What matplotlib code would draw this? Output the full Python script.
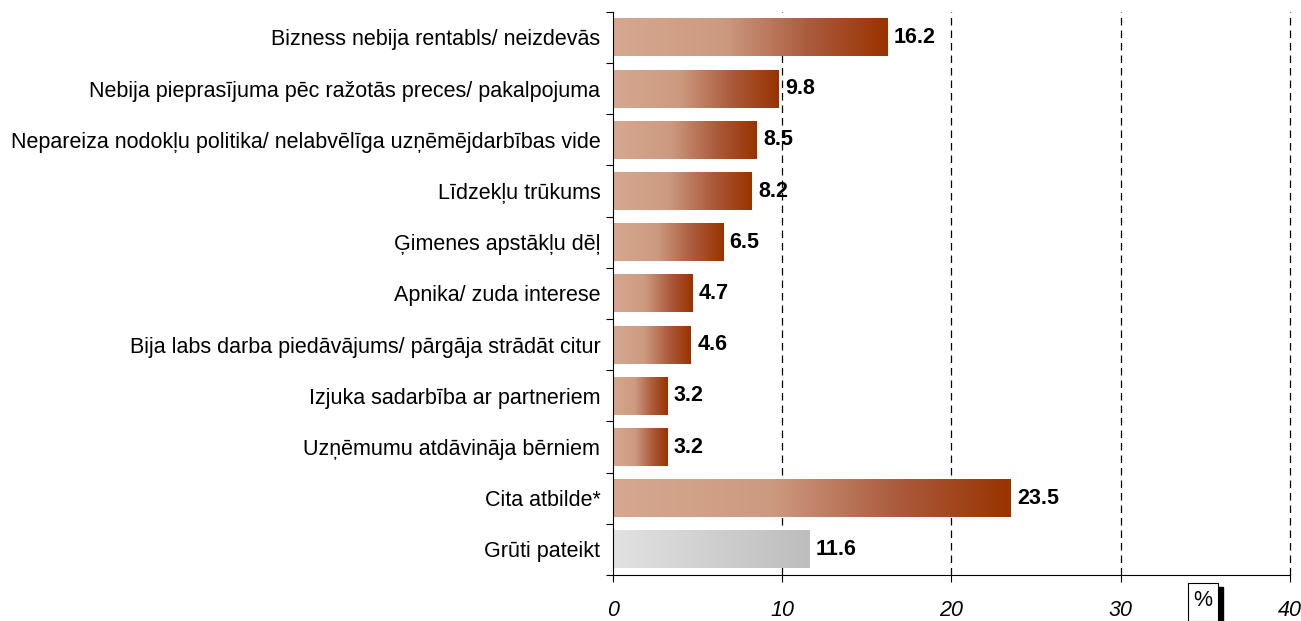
import numpy as np
import matplotlib
matplotlib.use("Agg")
import matplotlib.pyplot as plt
from matplotlib.colors import LinearSegmentedColormap
from matplotlib.patches import Rectangle

plt.rcParams["font.family"] = ["Liberation Sans", "DejaVu Sans"]

categories = [
    "Bizness nebija rentabls/ neizdevās",
    "Nebija pieprasījuma pēc ražotās preces/ pakalpojuma",
    "Nepareiza nodokļu politika/ nelabvēlīga uzņēmējdarbības vide",
    "Līdzekļu trūkums",
    "Ģimenes apstākļu dēļ",
    "Apnika/ zuda interese",
    "Bija labs darba piedāvājums/ pārgāja strādāt citur",
    "Izjuka sadarbība ar partneriem",
    "Uzņēmumu atdāvināja bērniem",
    "Cita atbilde*",
    "Grūti pateikt",
]
values = [16.2, 9.8, 8.5, 8.2, 6.5, 4.7, 4.6, 3.2, 3.2, 23.5, 11.6]
x_ticks = [0, 10, 20, 30, 40]

FS = 15.5

brown = LinearSegmentedColormap.from_list(
    "brown", [(0, "#d6a890"), (0.4, "#cc9a80"), (0.72, "#ab5a3c"), (1, "#993300")])
grey = LinearSegmentedColormap.from_list("grey", ["#e2e2e2", "#bdbdbd"])

fig = plt.figure(figsize=(13.01, 6.21), dpi=100)
ax = fig.add_axes([0.471, 0.074, 0.5205, 0.907])

n = len(categories)
ypos = np.arange(n)[::-1]
h = 0.74
grad = np.linspace(0, 1, 256).reshape(1, -1)
for i, (cat, v, y) in enumerate(zip(categories, values, ypos)):
    cmap = grey if i == n - 1 else brown
    ax.imshow(grad, extent=[0, v, y - h / 2, y + h / 2], aspect="auto",
              cmap=cmap, zorder=2, interpolation="bilinear")
    ax.text(v + 0.4, y, f"{v:.1f}", va="center", ha="left",
            fontsize=FS, fontweight="bold", zorder=3)

ax.set_xlim(0, 40)
ax.set_ylim(-0.5, n - 0.5)

for xv in x_ticks[1:]:
    ax.axvline(xv, color="black", linewidth=0.9, linestyle=(0, (6, 4)),
               zorder=1, clip_on=False)

ax.set_xticks(x_ticks)
ax.set_xticklabels([str(t) for t in x_ticks], fontsize=FS, style="italic")
ax.tick_params(axis="x", direction="out", length=5, pad=13)

ax.set_yticks(np.arange(n + 1) - 0.5)
ax.set_yticklabels([])
ax.set_yticks(ypos, minor=True)
ax.set_yticklabels(categories, minor=True, fontsize=FS)
ax.tick_params(axis="y", which="major", direction="out", length=5)
ax.tick_params(axis="y", which="minor", length=0, pad=9)

for s in ["top", "right"]:
    ax.spines[s].set_visible(False)

# "%" box with shadow
fig.patches.append(Rectangle((0.9185, -0.01), 0.0215, 0.065, transform=fig.transFigure,
                             facecolor="black", edgecolor="black", zorder=4))
fig.patches.append(Rectangle((0.9135, 0.0), 0.0225, 0.061, transform=fig.transFigure,
                             facecolor="white", edgecolor="black", linewidth=0.8, zorder=5))
fig.text(0.9245, 0.033, "%", ha="center", va="center", fontsize=FS, zorder=6)

fig.savefig("out.png", dpi=100)
